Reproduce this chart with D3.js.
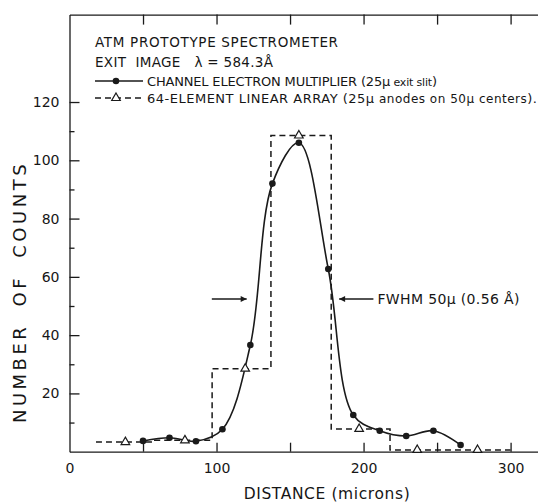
<!DOCTYPE html>
<html lang="en">
<head>
<meta charset="UTF-8">
<title>ATM prototype spectrometer</title>
<script src="https://cdn.jsdelivr.net/npm/d3@7"></script>
<style>
  body { margin: 0; background: #fff; }
  text { font-family: "DejaVu Sans", sans-serif; fill: #161616; }
</style>
</head>
<body>
<svg width="538" height="504" id="mainsvg"></svg>
<script>
// channel electron multiplier: dots joined by a smooth curve
const cemDistance = [50, 68, 86, 104, 123, 138, 156, 176, 193, 211, 229, 247.5, 266];
const cemCounts   = [3.7, 4.8, 3.6, 7.7, 36.6, 92, 106, 62.7, 12.6, 7.2, 5.4, 7.2, 2.3];

// 64-element linear array: bin edges, counts per bin, triangle positions
const arrayEdges   = [18, 58, 97, 137, 178, 218, 258, 300];
const arrayCounts  = [3.3, 3.9, 28.5, 108.5, 7.8, 0.6, 0.6];
const arrayCenters = [38, 78.5, 119.5, 156, 197, 236.5, 277.5];

// axes
const xTicks  = [50, 100, 150, 200, 250, 300];
const xLabels = [0, 100, 200, 300];
const yTicks  = [10, 20, 30, 40, 50, 60, 70, 80, 90, 100, 110, 120];
const yLabels = [20, 40, 60, 80, 100, 120];

// FWHM arrows (distance from -> to, at half maximum)
const fwhmLevel = 52.4;
const fwhmLeft  = [96.8, 120.5];
const fwhmRight = [206.7, 183.4];

const svg = d3.select('#mainsvg');
const ink = '#1a1a1a';

const x = d3.scaleLinear().domain([0, 320]).range([69.5, 540]);
const y = d3.scaleLinear().domain([0, 150]).range([451.7, 14.6]);

function styleAxis(g) {
    g.selectAll('path, line').attr('stroke', ink).attr('stroke-width', 1.3);
}

// frame: bottom + top, ticks pointing inward
svg.append('g').attr('transform', `translate(0,${y(0)})`)
    .call(d3.axisBottom(x).tickValues(xTicks).tickSize(-9).tickSizeOuter(0).tickFormat(''))
    .call(styleAxis);
svg.append('g').attr('transform', `translate(0,${y(150)})`)
    .call(d3.axisTop(x).tickValues(xTicks).tickSize(-10).tickSizeOuter(0).tickFormat(''))
    .call(styleAxis);
// left axis, long ticks every 20, short ones between
const yAxis = svg.append('g').attr('transform', `translate(${x(0)},0)`)
    .call(d3.axisLeft(y).tickValues(yTicks).tickSize(-10).tickSizeOuter(0).tickFormat(''))
    .call(styleAxis);
yAxis.selectAll('.tick line').attr('x2', d => d % 20 === 0 ? 10 : 5);

// tick labels
svg.append('g').attr('transform', `translate(0,${y(0)})`)
    .call(d3.axisBottom(x).tickValues(xLabels).tickSize(0).tickPadding(11))
    .call(g => g.select('.domain').remove())
    .selectAll('text').attr('font-size', 14).attr('font-family', null).style('fill', '#161616');
svg.append('g').attr('transform', `translate(${x(0)},0)`)
    .call(d3.axisLeft(y).tickValues(yLabels).tickSize(0).tickPadding(10))
    .call(g => g.select('.domain').remove())
    .selectAll('text').attr('font-size', 14).attr('font-family', null).style('fill', '#161616');

// axis titles
svg.append('text')
    .attr('x', 327).attr('y', 499)
    .attr('text-anchor', 'middle')
    .attr('font-size', 15.5)
    .style('letter-spacing', '0.6px')
    .text('DISTANCE (microns)');
svg.append('text')
    .attr('transform', 'translate(26,292) rotate(-90)')
    .attr('text-anchor', 'middle')
    .attr('font-size', 18)
    .style('letter-spacing', '3.5px')
    .style('word-spacing', '8px')
    .text('NUMBER OF COUNTS');

// linear array step line
const stepPts = arrayEdges.map((e, i) => [e, arrayCounts[Math.min(i, arrayCounts.length - 1)]]);
svg.append('path')
    .attr('d', d3.line().x(d => x(d[0])).y(d => y(d[1])).curve(d3.curveStepAfter)(stepPts))
    .attr('fill', 'none').attr('stroke', ink).attr('stroke-width', 1.5)
    .attr('stroke-dasharray', '6,4');

// channel electron multiplier curve
const cem = cemDistance.map((d, i) => [d, cemCounts[i]]);
svg.append('path')
    .attr('d', d3.line().x(d => x(d[0])).y(d => y(d[1])).curve(d3.curveCatmullRom)(cem))
    .attr('fill', 'none').attr('stroke', ink).attr('stroke-width', 1.6);

svg.append('g').selectAll('circle').data(cem).join('circle')
    .attr('cx', d => x(d[0])).attr('cy', d => y(d[1])).attr('r', 3.3)
    .attr('fill', ink);

const tri = d3.symbol().type(d3.symbolTriangle).size(32);
svg.append('g').selectAll('path').data(arrayCenters).join('path')
    .attr('d', tri)
    .attr('transform', (d, i) => `translate(${x(d)},${y(arrayCounts[i])})`)
    .attr('fill', '#fff').attr('stroke', ink).attr('stroke-width', 1.2);

// FWHM arrows
svg.append('defs').append('marker')
    .attr('id', 'head').attr('viewBox', '0 0 10 10')
    .attr('refX', 10).attr('refY', 5)
    .attr('markerWidth', 10).attr('markerHeight', 6)
    .attr('markerUnits', 'userSpaceOnUse')
    .attr('orient', 'auto')
    .append('path').attr('d', 'M0,0L10,5L0,10Z').attr('fill', ink);

[fwhmLeft, fwhmRight].forEach(a => {
    svg.append('line')
        .attr('x1', x(a[0])).attr('x2', x(a[1]))
        .attr('y1', y(fwhmLevel)).attr('y2', y(fwhmLevel))
        .attr('stroke', ink).attr('stroke-width', 1.3)
        .attr('marker-end', 'url(#head)');
});
const fw = svg.append('text')
    .attr('x', x(fwhmRight[0]) + 4).attr('y', y(fwhmLevel) + 5)
    .attr('font-size', 14)
    .attr('textLength', 142).attr('lengthAdjust', 'spacing');
fw.append('tspan').text('FWHM  50μ (0.56 Å)');

// legend / header
const legend = svg.append('g');
legend.append('text').attr('x', 95).attr('y', 47).attr('font-size', 13.5)
    .attr('textLength', 243).attr('lengthAdjust', 'spacing')
    .text('ATM PROTOTYPE SPECTROMETER');
legend.append('text').attr('x', 95).attr('y', 67).attr('font-size', 13.5)
    .style('white-space', 'pre')
    .attr('textLength', 178).attr('lengthAdjust', 'spacing')
    .text('EXIT  IMAGE   λ = 584.3Å');

legend.append('line').attr('x1', 95).attr('x2', 143).attr('y1', 81).attr('y2', 81)
    .attr('stroke', ink).attr('stroke-width', 1.6);
legend.append('circle').attr('cx', 116).attr('cy', 81).attr('r', 3.3).attr('fill', ink);
const t3 = legend.append('text').attr('x', 147).attr('y', 86).attr('font-size', 13)
    .attr('textLength', 290).attr('lengthAdjust', 'spacing');
t3.append('tspan').text('CHANNEL ELECTRON MULTIPLIER (25μ');
t3.append('tspan').attr('font-size', 11).text(' exit slit');
t3.append('tspan').text(')');

legend.append('line').attr('x1', 95).attr('x2', 143).attr('y1', 98).attr('y2', 98)
    .attr('stroke', ink).attr('stroke-width', 1.5).attr('stroke-dasharray', '6,4');
legend.append('path').attr('d', tri)
    .attr('transform', 'translate(116,98)')
    .attr('fill', '#fff').attr('stroke', ink).attr('stroke-width', 1.2);
const t4 = legend.append('text').attr('x', 147).attr('y', 103).attr('font-size', 13)
    .attr('textLength', 390).attr('lengthAdjust', 'spacing');
t4.append('tspan').text('64-ELEMENT LINEAR ARRAY (25μ');
t4.append('tspan').attr('font-size', 12).text(' anodes on 50μ centers');
t4.append('tspan').text(').');
</script>
</body>
</html>
